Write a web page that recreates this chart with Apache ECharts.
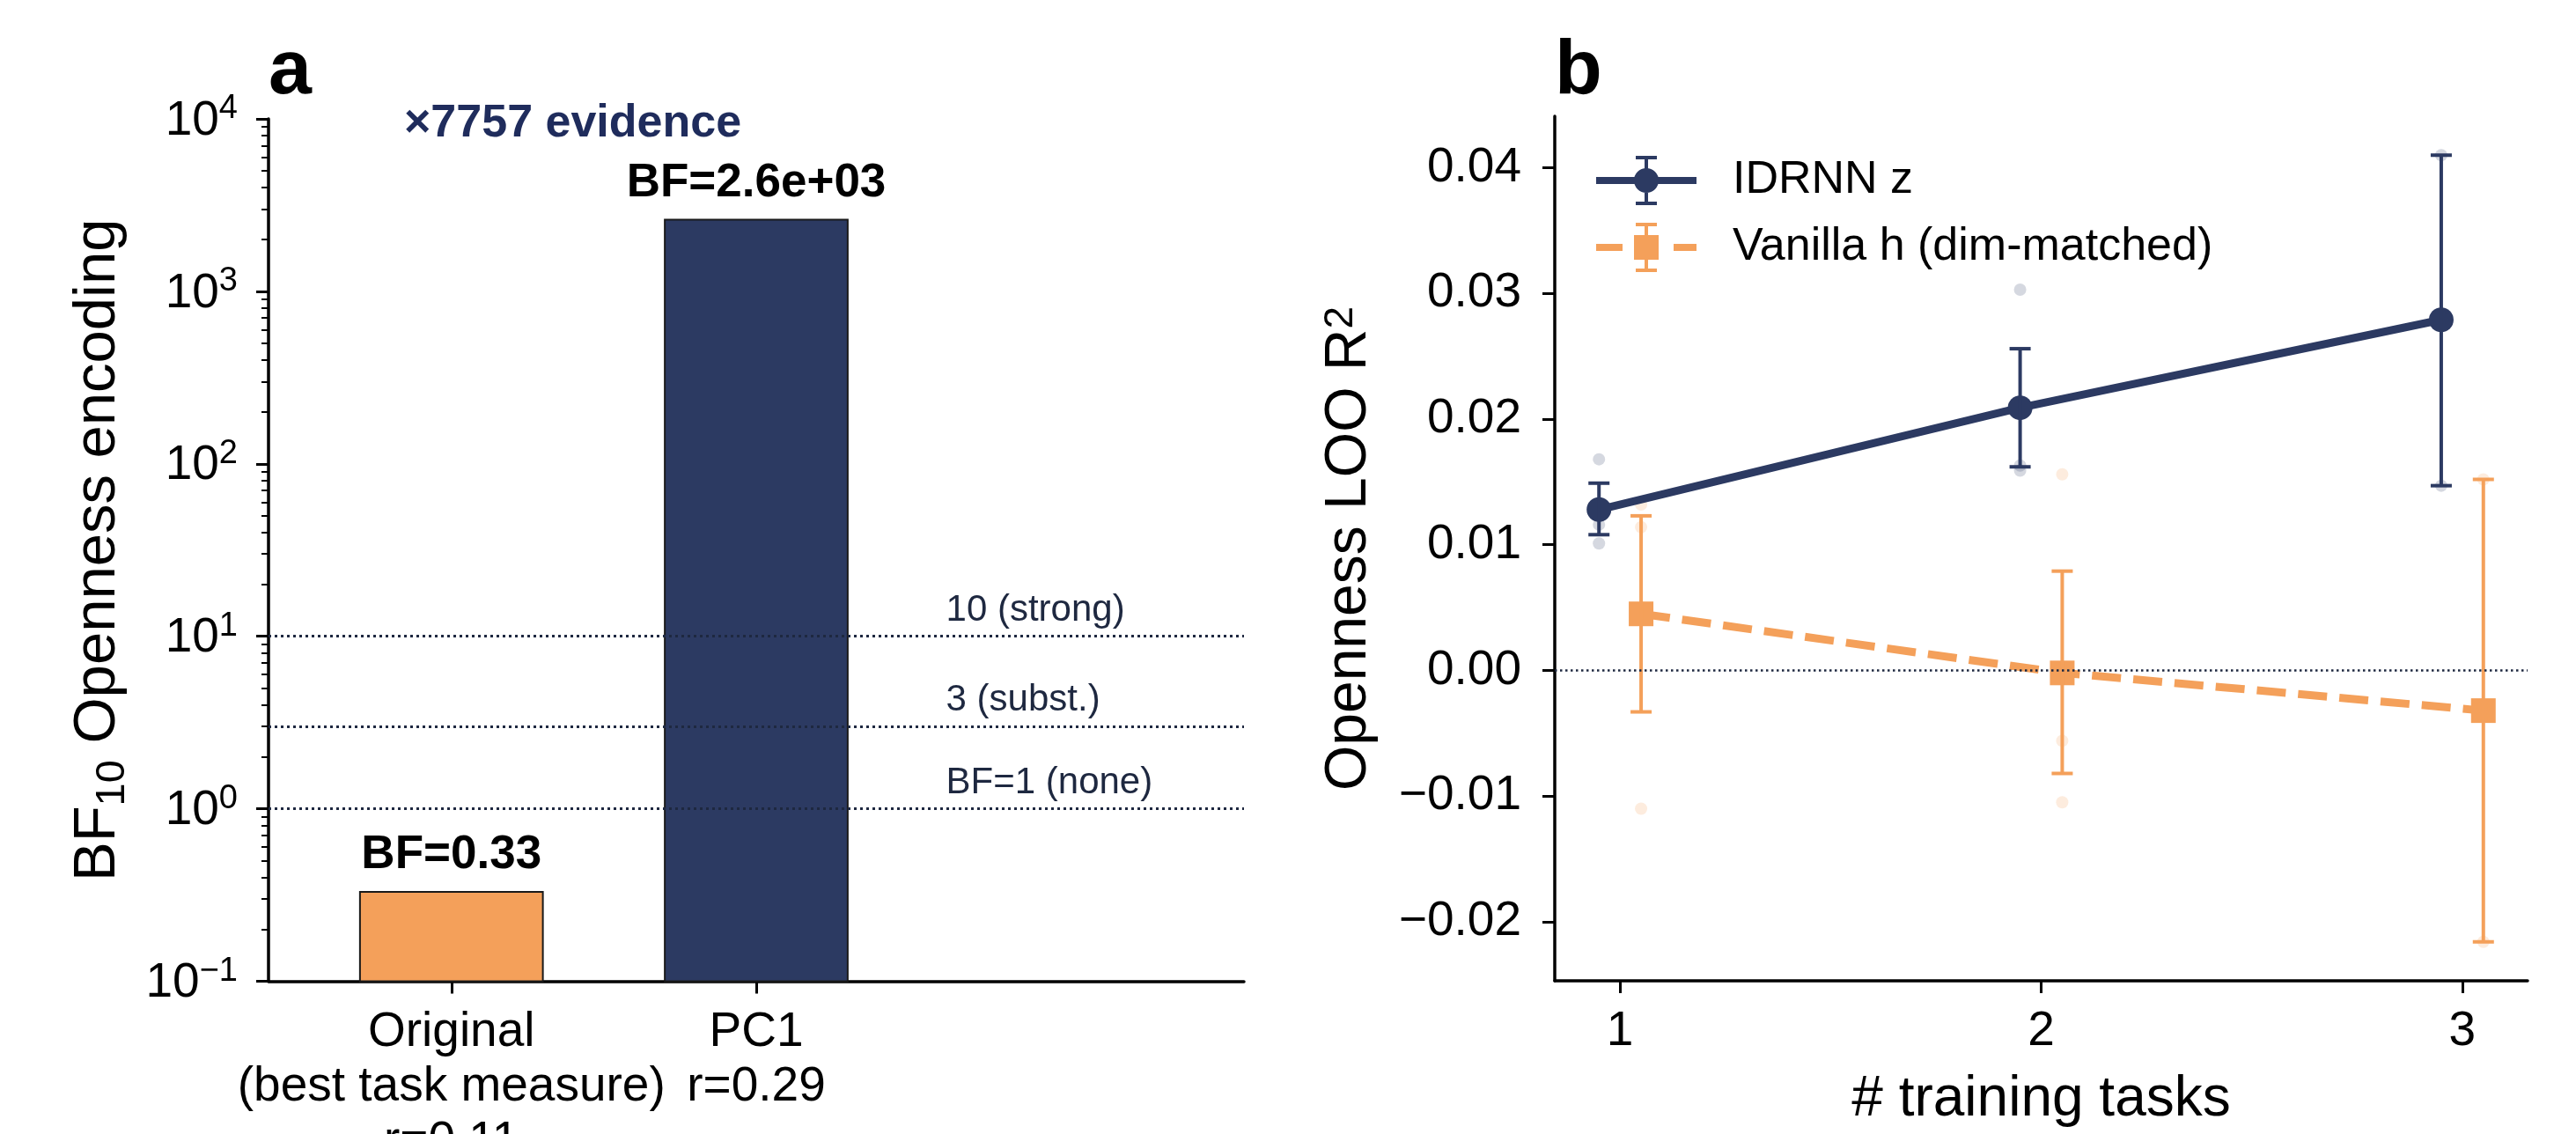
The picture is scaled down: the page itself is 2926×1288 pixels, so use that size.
<!DOCTYPE html>
<html>
<head>
<meta charset="utf-8">
<script src="https://cdn.jsdelivr.net/npm/echarts@6/dist/echarts.min.js"></script>
<style>
  html, body { margin: 0; padding: 0; background: #ffffff; }
  #chart { width: 2926px; height: 1288px; }
</style>
</head>
<body>
<div id="chart"></div>
<script>
// ---------- Panel a: Bayes factor for Openness encoding ----------
const bfCategories = ['Original\n(best task measure)\nr=0.11', 'PC1\nr=0.29'];
const bfPositions = [0, 1];
const bfValues = [0.33, 2600];
const bfColors = ['#F4A05A', '#2C3A62'];
const bfThresholds = [10, 3, 1];
const bfThresholdLabels = ['10 (strong)', '3 (subst.)', 'BF=1 (none)'];
const bfMajorTicks = [0.1, 1, 10, 100, 1000, 10000];
const evidenceNote = '\u00d77757 evidence';

// ---------- Panel b: LOO R² vs number of training tasks ----------
const taskCounts = [1, 2, 3];
const idrnnX = [0.95, 1.95, 2.95];
const idrnnMean = [0.0128, 0.0209, 0.0279];
const idrnnLow = [0.0108, 0.0162, 0.0147];
const idrnnHigh = [0.0149, 0.0256, 0.0410];
const idrnnSeedX = [0.95, 0.95, 0.95, 1.95, 1.95, 1.95, 2.95, 2.95];
const idrnnSeedY = [0.0168, 0.0116, 0.0101, 0.0303, 0.0163, 0.0159, 0.0410, 0.0147];
const vanillaX = [1.05, 2.05, 3.05];
const vanillaMean = [0.0045, -0.0002, -0.0032];
const vanillaLow = [-0.0033, -0.0082, -0.0216];
const vanillaHigh = [0.0123, 0.0079, 0.0152];
const vanillaSeedX = [1.05, 1.05, 1.05, 2.05, 2.05, 2.05, 3.05, 3.05];
const vanillaSeedY = [0.0132, 0.0114, -0.0110, 0.0156, -0.0056, -0.0105, 0.0152, -0.0216];
const r2Ticks = [-0.02, -0.01, 0, 0.01, 0.02, 0.03, 0.04];

// ---------- styling ----------
const FONT = "'Liberation Sans', Arial, sans-serif";
const NAVY = '#2C3A62';
const ORANGE = '#F4A05A';
const REF_GREY = '#1E2840';
const BAR_WIDTH = 0.6;
const BF_MIN = 0.1, BF_MAX = 10000;
const REF_LABEL_X = 1.624;

// minor log ticks: 2..9 within every decade shown
const bfMinorTicks = [];
for (let e = -1; e < 4; e++) {
  for (let m = 2; m <= 9; m++) bfMinorTicks.push(m * Math.pow(10, e));
}

function fmtBF(v) {
  if (v >= 1000) return v.toExponential(1).replace(/e([+-])(\d)$/, 'e$10$2');
  return v.toFixed(2);
}
function fmtR2(v) {
  const s = Math.abs(v).toFixed(2);
  return (v < -1e-12 ? '\u2212' : '') + s;
}

const axisLineStyle = { color: '#000', width: 3.5 };
const majorTick = { length: 14, lineStyle: { color: '#000', width: 3 } };

function errorBarRenderer(color) {
  return function (params, api) {
    const x = api.value(0);
    const lo = api.coord([x, api.value(1)]);
    const hi = api.coord([x, api.value(2)]);
    const cw = 12;
    const st = { stroke: color, lineWidth: 4 };
    return {
      type: 'group',
      children: [
        { type: 'line', shape: { x1: lo[0], y1: lo[1], x2: hi[0], y2: hi[1] }, style: st },
        { type: 'line', shape: { x1: lo[0] - cw, y1: lo[1], x2: lo[0] + cw, y2: lo[1] }, style: st },
        { type: 'line', shape: { x1: hi[0] - cw, y1: hi[1], x2: hi[0] + cw, y2: hi[1] }, style: st }
      ]
    };
  };
}

const ICON_IDRNN = 'path://M0 24H114V32H0Z M43 28A14 14 0 1 1 71 28A14 14 0 1 1 43 28Z M55 2H59V54H55Z M45 0H69V4H45Z M45 52H69V56H45Z';
const ICON_VANILLA = 'path://M0 24H30V32H0Z M88 24H114V32H88Z M43 14H71V42H43Z M55 2H59V54H55Z M45 0H69V4H45Z M45 52H69V56H45Z';

const chart = echarts.init(document.getElementById('chart'), null, { renderer: 'canvas' });

const option = {
  animation: false,
  backgroundColor: '#ffffff',
  textStyle: { fontFamily: FONT },
  grid: [
    { left: 305, top: 135, width: 1108, height: 979.5, containLabel: false, outerBoundsMode: 'none' },
    { left: 1766, top: 132, width: 1105, height: 982, containLabel: false, outerBoundsMode: 'none' }
  ],
  xAxis: [
    {
      type: 'value', gridIndex: 0, min: -0.6, max: 2.6,
      axisLine: { show: true, onZero: false, lineStyle: axisLineStyle },
      axisTick: Object.assign({ show: true, customValues: bfPositions }, majorTick),
      axisLabel: {
        customValues: bfPositions,
        formatter: v => bfCategories[bfPositions.indexOf(v)] || '',
        fontSize: 55, lineHeight: 62, margin: 27, color: '#000', fontFamily: FONT
      },
      splitLine: { show: false }
    },
    {
      type: 'value', gridIndex: 1, min: 0.845, max: 3.155,
      axisLine: { show: true, onZero: false, lineStyle: axisLineStyle },
      axisTick: Object.assign({ show: true, customValues: taskCounts }, majorTick),
      axisLabel: {
        customValues: taskCounts, formatter: v => String(v),
        fontSize: 55, margin: 30, color: '#000', fontFamily: FONT
      },
      splitLine: { show: false },
      name: '# training tasks', nameLocation: 'middle', nameGap: 103,
      nameTextStyle: { fontSize: 64, color: '#000', fontFamily: FONT }
    }
  ],
  yAxis: [
    {
      type: 'log', logBase: 10, gridIndex: 0, min: BF_MIN, max: BF_MAX,
      axisLine: { show: true, onZero: false, lineStyle: axisLineStyle },
      axisTick: Object.assign({ show: true, customValues: bfMajorTicks }, majorTick),
      axisLabel: {
        customValues: bfMajorTicks, margin: 35, color: '#000',
        formatter: v => {
          const e = Math.round(Math.log10(v));
          return '{b|10}{s|' + (e < 0 ? '\u2212' + (-e) : e) + '}';
        },
        rich: {
          b: { fontSize: 55, lineHeight: 60, verticalAlign: 'bottom', fontFamily: FONT, color: '#000' },
          s: { fontSize: 38, lineHeight: 38, padding: [0, 0, 22, 0], verticalAlign: 'top', fontFamily: FONT, color: '#000' }
        }
      },
      splitLine: { show: false },
      name: '{n|BF}{sub|10}{n| Openness encoding}',
      nameLocation: 'middle', nameGap: 160, nameRotate: 90,
      nameTextStyle: {
        color: '#000', fontFamily: FONT, fontSize: 67,
        rich: {
          n: { fontSize: 67, lineHeight: 67, verticalAlign: 'top', fontFamily: FONT, color: '#000' },
          sub: { fontSize: 47, lineHeight: 47, padding: [27, 0, 0, 0], verticalAlign: 'top', fontFamily: FONT, color: '#000' }
        }
      }
    },
    {
      type: 'log', logBase: 10, gridIndex: 0, min: BF_MIN, max: BF_MAX, position: 'left', offset: 0,
      axisLine: { show: false, onZero: false },
      axisTick: { show: true, customValues: bfMinorTicks, length: 8, lineStyle: { color: '#000', width: 2 } },
      axisLabel: { show: false },
      splitLine: { show: false }
    },
    {
      type: 'value', gridIndex: 1, min: -0.0247, max: 0.0441,
      axisLine: { show: true, onZero: false, lineStyle: axisLineStyle },
      axisTick: Object.assign({ show: true, customValues: r2Ticks }, majorTick),
      axisLabel: {
        customValues: r2Ticks, formatter: fmtR2,
        fontSize: 55, margin: 38, color: '#000', fontFamily: FONT
      },
      splitLine: { show: false },
      name: '{n|Openness LOO R}{sup|2}',
      nameLocation: 'middle', nameGap: 200, nameRotate: 90,
      nameTextStyle: {
        color: '#000', fontFamily: FONT, fontSize: 66,
        rich: {
          n: { fontSize: 66, lineHeight: 66, verticalAlign: 'bottom', fontFamily: FONT, color: '#000' },
          sup: { fontSize: 46, lineHeight: 46, padding: [0, 0, 28, 0], verticalAlign: 'top', fontFamily: FONT, color: '#000' }
        }
      }
    }
  ],
  legend: {
    orient: 'vertical', left: 1808, top: 172,
    itemWidth: 114, itemHeight: 56, itemGap: 20,
    selectedMode: false,
    textStyle: { fontSize: 52, color: '#000', fontFamily: FONT, padding: [0, 0, 0, 36] },
    data: [
      { name: 'IDRNN z', icon: ICON_IDRNN, itemStyle: { color: NAVY, borderWidth: 0 } },
      { name: 'Vanilla h (dim-matched)', icon: ICON_VANILLA, itemStyle: { color: ORANGE, borderWidth: 0 } }
    ]
  },
  series: [
    // evidence thresholds (dotted) with their captions
    {
      type: 'scatter', xAxisIndex: 0, yAxisIndex: 0, z: 1,
      symbol: 'circle', symbolSize: 1,
      itemStyle: { color: 'rgba(0,0,0,0)' },
      data: bfThresholds.map(v => [REF_LABEL_X, v]),
      label: {
        show: true, position: [0, -8], align: 'left', verticalAlign: 'bottom',
        formatter: p => bfThresholdLabels[p.dataIndex],
        fontSize: 42, color: REF_GREY, opacity: 1, fontFamily: FONT
      },
      markLine: {
        silent: true, symbol: ['none', 'none'], label: { show: false },
        lineStyle: { type: [3, 4], color: REF_GREY, width: 3, opacity: 1 },
        data: bfThresholds.map(v => ({ yAxis: v }))
      }
    },
    // Bayes factor bars, drawn from the axis floor up to each value
    {
      type: 'custom', xAxisIndex: 0, yAxisIndex: 0, z: 2,
      data: bfPositions.map((x, i) => [x, bfValues[i]]),
      encode: { x: 0, y: 1 },
      renderItem: (params, api) => {
        const x = api.value(0), v = api.value(1);
        const tl = api.coord([x - BAR_WIDTH / 2, v]);
        const br = api.coord([x + BAR_WIDTH / 2, BF_MIN]);
        return {
          type: 'group',
          children: [
            {
              type: 'rect',
              shape: { x: tl[0], y: tl[1], width: br[0] - tl[0], height: br[1] - tl[1] },
              style: { fill: bfColors[params.dataIndex], stroke: '#1a1a1a', lineWidth: 2 }
            },
            {
              type: 'text',
              style: {
                text: 'BF=' + fmtBF(v), x: (tl[0] + br[0]) / 2, y: tl[1] - 15,
                align: 'center', verticalAlign: 'bottom',
                font: 'bold 53px ' + FONT, fill: '#000'
              }
            }
          ]
        };
      }
    },
    // individual seeds
    {
      type: 'scatter', xAxisIndex: 1, yAxisIndex: 2, z: 1, symbolSize: 14,
      itemStyle: { color: 'rgba(44,58,98,0.25)' },
      data: idrnnSeedX.map((x, i) => [x, idrnnSeedY[i]])
    },
    {
      type: 'scatter', xAxisIndex: 1, yAxisIndex: 2, z: 1, symbolSize: 14,
      itemStyle: { color: 'rgba(244,160,90,0.25)' },
      data: vanillaSeedX.map((x, i) => [x, vanillaSeedY[i]])
    },
    // means
    {
      name: 'IDRNN z', type: 'line', xAxisIndex: 1, yAxisIndex: 2, z: 3,
      data: idrnnX.map((x, i) => [x, idrnnMean[i]]),
      symbol: 'circle', symbolSize: 28, showAllSymbol: true,
      lineStyle: { color: NAVY, width: 9 },
      itemStyle: { color: NAVY, borderWidth: 0 },
      markLine: {
        silent: true, symbol: ['none', 'none'], label: { show: false },
        lineStyle: { type: [2.5, 3.5], color: REF_GREY, width: 2.5, opacity: 1 },
        data: [{ yAxis: 0 }]
      }
    },
    {
      name: 'Vanilla h (dim-matched)', type: 'line', xAxisIndex: 1, yAxisIndex: 2, z: 3,
      data: vanillaX.map((x, i) => [x, vanillaMean[i]]),
      symbol: 'rect', symbolSize: 28, showAllSymbol: true,
      lineStyle: { color: ORANGE, width: 9, type: [33, 14] },
      itemStyle: { color: ORANGE, borderWidth: 0 }
    },
    // error bars
    {
      type: 'custom', xAxisIndex: 1, yAxisIndex: 2, z: 4,
      data: idrnnX.map((x, i) => [x, idrnnLow[i], idrnnHigh[i]]),
      encode: { x: 0, y: [1, 2] },
      renderItem: errorBarRenderer(NAVY)
    },
    {
      type: 'custom', xAxisIndex: 1, yAxisIndex: 2, z: 4,
      data: vanillaX.map((x, i) => [x, vanillaLow[i], vanillaHigh[i]]),
      encode: { x: 0, y: [1, 2] },
      renderItem: errorBarRenderer(ORANGE)
    }
  ],
  graphic: [
    { type: 'text', x: 305, y: 126, style: { text: 'a', font: 'bold 88px ' + FONT, fill: '#000', align: 'left', verticalAlign: 'bottom' } },
    { type: 'text', x: 1766, y: 126, style: { text: 'b', font: 'bold 88px ' + FONT, fill: '#000', align: 'left', verticalAlign: 'bottom' } },
    { type: 'text', x: 459, y: 167, style: { text: evidenceNote, font: 'bold 52px ' + FONT, fill: '#1F2C5C', align: 'left', verticalAlign: 'bottom' } }
  ]
};

chart.setOption(option);
</script>
</body>
</html>
